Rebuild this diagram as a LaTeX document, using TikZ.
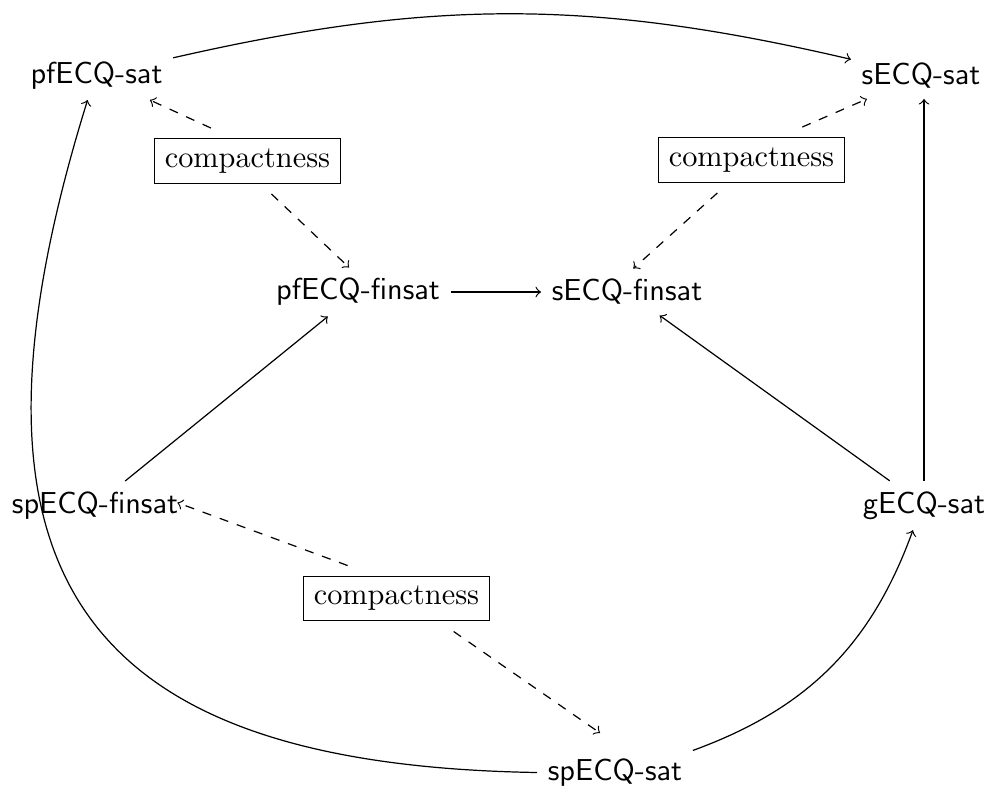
\documentclass[tikz,border=0pt]{standalone}
\usetikzlibrary{arrows}
\begin{document}
\begin{tikzpicture}[x=0.33pt,y=-0.33pt,
  lbl/.style={font=\sffamily},
  cbox/.style={draw,font=\rmfamily,outer sep=3.5pt},
  dsh/.style={dashed,->},
  sol/.style={->}]
\useasboundingbox (0,0) rectangle (996,796);
\node[lbl] (pfsat) at (96.5,75.5) {pfECQ-sat};
\node[lbl] (ssat) at (921,75.5) {sECQ-sat};
\node[lbl] (pffin) at (358,292) {pfECQ-finsat};
\node[lbl] (sfin) at (627,292) {sECQ-finsat};
\node[lbl] (spfin) at (95,505.5) {spECQ-finsat};
\node[lbl] (gsat) at (924,505.5) {gECQ-sat};
\node[lbl] (spsat) at (615,772.5) {spECQ-sat};
\node[cbox] (c1) at (247.5,161) {compactness};
\node[cbox] (c2) at (751.5,160) {compactness};
\node[cbox] (c3) at (396.5,598.5) {compactness};
\coordinate (t3) at (600,733);
% solid
\draw[sol] (pfsat) to[bend left=13] (ssat);
\draw[sol] (gsat) -- (gsat |- ssat.south);
\draw[sol] (pffin) -- (sfin);
\draw[sol] (spfin) -- (pffin);
\draw[sol] (gsat) -- (sfin);
\draw[sol] (spsat) to[bend right=25] (gsat);
\draw[sol] (spsat.west) .. controls (80,765) and (-60,575) .. (pfsat.250);
% dashed
\draw[dsh] (c1.138) -- (pfsat);
\draw[dsh] (c1.-54) -- (pffin.110);
\draw[dsh] (c2.33) -- (ssat);
\draw[dsh] (c2.-136) -- (sfin.75);
\draw[dsh,shorten >=-4pt] (c3.146) -- (spfin.mid east);
\draw[dsh] (c3.-30) -- (t3);
\end{tikzpicture}
\end{document}
